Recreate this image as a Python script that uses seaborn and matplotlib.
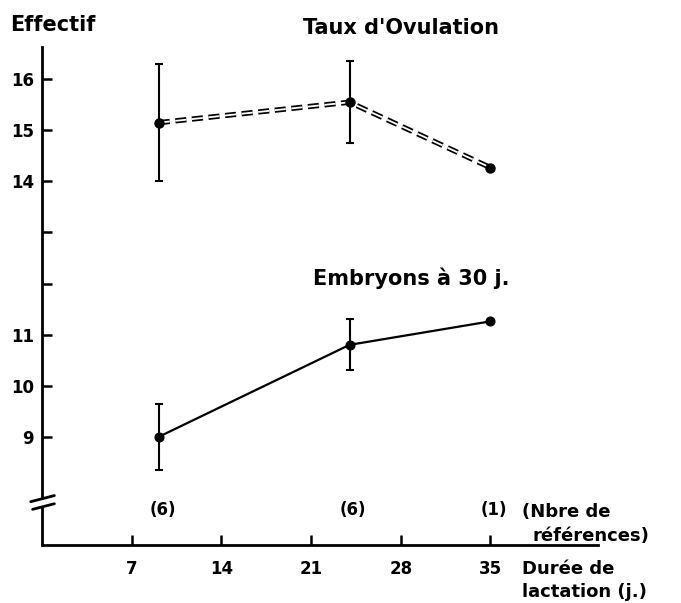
import matplotlib
matplotlib.use("Agg")
import matplotlib.pyplot as plt
import seaborn as sns
import pandas as pd

# Données
jours = [9.1, 24, 35]
ovulation = [15.15, 15.55, 14.27]
ovulation_err = [1.15, 0.8, 0]
embryons = [9.0, 10.8, 11.26]
embryons_err = [0.65, 0.5, 0]
nb_refs = ["(6)", "(6)", "(1)"]

x_ticks = [7, 14, 21, 28, 35]
y_ticks = [9, 10, 11, 12, 13, 14, 15, 16]
y_labels = ["9", "10", "11", "", "", "14", "15", "16"]

sns.set_style("ticks")
plt.rcParams["font.family"] = ["DejaVu Sans"]
plt.rcParams["font.weight"] = "bold"
plt.rcParams["text.color"] = "black"
plt.rcParams["xtick.color"] = "black"
plt.rcParams["ytick.color"] = "black"
plt.rcParams["lines.scale_dashes"] = False

df_ov = pd.DataFrame({"jours": jours, "valeur": ovulation})
df_em = pd.DataFrame({"jours": jours, "valeur": embryons})

fig = plt.figure(figsize=(6.81, 6.03), dpi=100)
ax = fig.add_axes([0.062, 0.096, 0.816, 0.826])

# Taux d'ovulation : double trait tireté
sns.lineplot(data=df_ov, x="jours", y="valeur", ax=ax, color="black",
             linewidth=3.8, linestyle=(0, (8, 4)))
sns.lineplot(data=df_ov, x="jours", y="valeur", ax=ax, color="white",
             linewidth=1.3, linestyle=(0, (8, 4)))
ax.errorbar(jours[:2], ovulation[:2], yerr=ovulation_err[:2], fmt="none",
            ecolor="black", elinewidth=1.5, capsize=3, capthick=1.5)
ax.plot(jours, ovulation, "o", color="black", markersize=6.5)

# Embryons à 30 j.
sns.lineplot(data=df_em, x="jours", y="valeur", ax=ax, color="black",
             linewidth=1.6, marker="o", markersize=6.5, markeredgecolor="black")
ax.errorbar(jours[:2], embryons[:2], yerr=embryons_err[:2], fmt="none",
            ecolor="black", elinewidth=1.5, capsize=3, capthick=1.5)

ax.set_xlim(0, 43.4)
ax.set_ylim(6.88, 16.63)
ax.set_xticks(x_ticks)
ax.set_xticklabels([str(t) for t in x_ticks], fontsize=12, fontweight="bold")
ax.set_yticks(y_ticks)
ax.set_yticklabels(y_labels, fontsize=12, fontweight="bold")
ax.tick_params(axis="both", direction="in", length=7, width=1.8, pad=6)
ax.tick_params(axis="x", pad=11)
ax.set_xlabel("")
ax.set_ylabel("")

for s in ["top", "right"]:
    ax.spines[s].set_visible(False)
for s in ["left", "bottom"]:
    ax.spines[s].set_linewidth(2)
    ax.spines[s].set_color("black")
ax.spines["left"].set_bounds(7.8, 16.63)

# rupture de l'axe des ordonnées
ax.plot([0, 0], [6.88, 7.62], color="black", linewidth=2, clip_on=False)
ax.plot([-0.9, 0.95], [7.73, 7.85], color="black", linewidth=2, clip_on=False)
ax.plot([-0.75, 0.95], [7.58, 7.69], color="black", linewidth=2, clip_on=False)

# textes
fig.text(0.015, 0.948, "Effectif", fontsize=15, fontweight="bold", ha="left")
ax.text(28, 17.0, "Taux d'Ovulation", fontsize=15, fontweight="bold",
        ha="center", va="center", clip_on=False)
ax.text(28.8, 12.1, "Embryons à 30 j.", fontsize=15, fontweight="bold",
        ha="center", va="center")
for xj, lab in zip(jours, nb_refs):
    ax.text(xj + 0.3, 7.57, lab, fontsize=12, fontweight="bold",
            ha="center", va="center")
ax.text(37.5, 7.53, "(Nbre de", fontsize=13, fontweight="bold",
        ha="left", va="center", clip_on=False)
ax.text(38.3, 7.06, "références)", fontsize=13, fontweight="bold",
        ha="left", va="center", clip_on=False)
ax.text(37.5, 6.42, "Durée de", fontsize=13, fontweight="bold",
        ha="left", va="center", clip_on=False)
ax.text(37.5, 5.96, "lactation (j.)", fontsize=13, fontweight="bold",
        ha="left", va="center", clip_on=False)

fig.savefig("out.png", dpi=100, facecolor="white")
